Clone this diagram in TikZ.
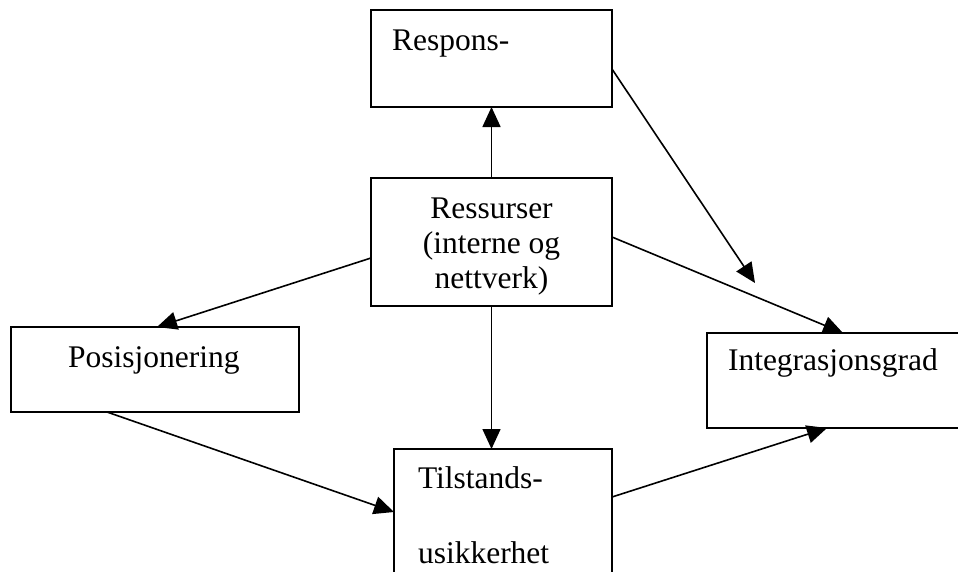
\documentclass[tikz,border=0pt]{standalone}
\usepackage{fontspec}
\setmainfont{Liberation Serif}
\usetikzlibrary{arrows.meta,calc}
\tikzset{
  box/.style={draw, line width=1.3pt, inner sep=0pt, outer sep=0pt, anchor=north west},
  lbl/.style={inner sep=0pt, outer sep=0pt, font=\fontsize{31.5}{35}\selectfont},
  conn/.style={line width=1.6pt, -{Triangle[length=20pt,width=18pt]}}
}
\begin{document}
\begin{tikzpicture}[x=1pt,y=-1pt]
\useasboundingbox (0,0) rectangle (958,571);
\clip (0,0) rectangle (958,571);
% boxes
\node[box, minimum width=241pt, minimum height=97pt] (resp) at (371,10) {};
\node[box, minimum width=241pt, minimum height=128pt] (res) at (371,178) {};
\node[box, minimum width=288pt, minimum height=85pt] (pos) at (11,327) {};
\node[box, minimum width=270pt, minimum height=95pt] (integ) at (707,333) {};
\node[box, minimum width=218pt, minimum height=160pt] (til) at (394,449) {};
% texts
\node[lbl, anchor=base west] (tresp) at (392,50) {Respons-};
\node[lbl, anchor=base] (tres1) at (491.5,218) {Ressurser};
\node[lbl, anchor=base] (tres2) at (491.5,253) {(interne og};
\node[lbl, anchor=base] (tres3) at (491.5,288) {nettverk)};
\node[lbl, anchor=base west] (tpos) at (68,367) {Posisjonering};
\node[lbl, anchor=base west] (tint) at (728,370) {Integrasjonsgrad};
\node[lbl, anchor=base west] (ttil1) at (418,488) {Tilstands-};
\node[lbl, anchor=base west] (ttil2) at (418,563) {usikkerhet};
% connectors
\coordinate (rtip) at (755,283);
\draw[conn] (res.north) -- (resp.south);
\draw[conn] ($(resp.east)+(0,10.5)$) -- (rtip);
\draw[conn] ($(res.east)+(0,-5)$) -- ($(integ.north west)+(136,0)$);
\draw[conn] ($(res.west)+(0,16)$) -- ($(pos.north west)+(146,0)$);
\draw[conn] (res.south) -- (res.south |- til.north);
\draw[conn] ($(pos.south west)+(96,0)$) -- ($(til.north west)+(0,63)$);
\draw[conn] ($(til.north east)+(0,48)$) -- ($(integ.south west)+(120,0)$);
\end{tikzpicture}
\end{document}
